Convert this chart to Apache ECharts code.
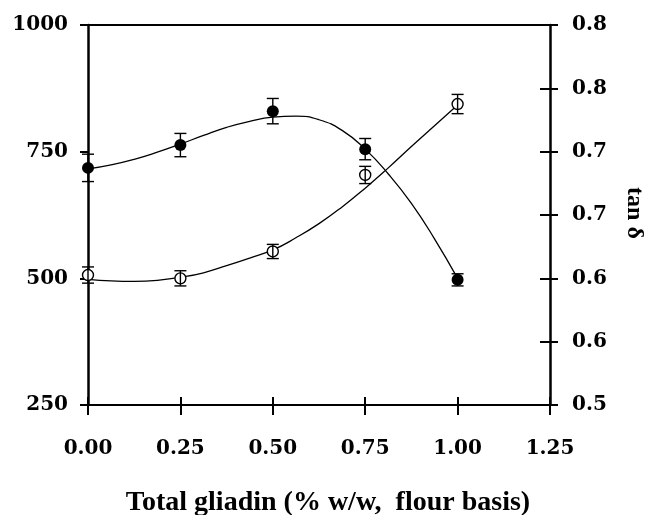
<!DOCTYPE html>
<html>
<head>
<meta charset="utf-8">
<script src="https://cdn.jsdelivr.net/npm/echarts@6/dist/echarts.min.js"></script>
<style>
html,body{margin:0;padding:0;background:#fff;}
#chart{width:646px;height:515px;}
</style>
</head>
<body>
<div id="chart"></div>
<script>
// ---- data ----
const xTicks = [0, 0.25, 0.5, 0.75, 1.0, 1.25];
const leftTickLabels = ['250', '500', '750', '1000'];
const rightTickLabels = ['0.5', '0.6', '0.6', '0.7', '0.7', '0.8', '0.8'];

const pointX = [0, 0.25, 0.5, 0.75, 1.0];
// filled circles (left axis)
const filledValues = [718, 763, 830, 755, 497];
const filledErrors = [27, 23, 25, 21, 12];
// open circles (tan δ, right axis)
const openValues = [0.6026, 0.6000, 0.6212, 0.6816, 0.7376];
const openErrors = [0.0064, 0.0060, 0.0056, 0.0068, 0.0076];

// fitted curves
const curveX = [0, 0.0625, 0.125, 0.1875, 0.25, 0.3125, 0.375, 0.4375, 0.5, 0.5625, 0.625, 0.6875, 0.75, 0.8125, 0.875, 0.9375, 1.0];
const filledCurve = [716, 724, 735, 749, 765, 782, 798, 810, 818, 820, 813, 792, 755, 706, 648, 578, 500];
const openCurve = [0.5992, 0.5980, 0.5976, 0.5984, 0.6008, 0.6044, 0.6100, 0.6160, 0.6224, 0.6320, 0.6432, 0.6564, 0.6712, 0.6872, 0.7040, 0.7204, 0.7368];

const xTitle = 'Total gliadin (% w/w,  flour basis)';
const yRightTitle = 'tan δ';

// ---- chart ----
const tickFont = {fontFamily: 'DejaVu Serif', fontWeight: 'bold', fontSize: 20, color: '#000'};
const chart = echarts.init(document.getElementById('chart'), null, {renderer: 'canvas'});

function zip(a, b) { return a.map((v, i) => [v, b[i]]); }
function errData(xs, vs, es) { return xs.map((x, i) => [x, vs[i] - es[i], vs[i] + es[i]]); }

function errRender(params, api) {
  const x = api.value(0), lo = api.value(1), hi = api.value(2);
  const p1 = api.coord([x, hi]);
  const p2 = api.coord([x, lo]);
  const hw = 6;
  const st = {stroke: '#000', lineWidth: 1.4};
  return {
    type: 'group',
    children: [
      {type: 'line', shape: {x1: p1[0], y1: p1[1], x2: p2[0], y2: p2[1]}, style: st},
      {type: 'line', shape: {x1: p1[0] - hw, y1: p1[1], x2: p1[0] + hw, y2: p1[1]}, style: st},
      {type: 'line', shape: {x1: p2[0] - hw, y1: p2[1], x2: p2[0] + hw, y2: p2[1]}, style: st}
    ]
  };
}

const xBase = {type: 'value', min: 0, max: 1.25, interval: 0.25, splitLine: {show: false}};
const yLeftBase = {type: 'value', min: 250, max: 1000, interval: 250, splitLine: {show: false}};
const yRightBase = {type: 'value', min: 0.5, max: 0.8, interval: 0.05, splitLine: {show: false}};
const gridRect = {left: 88, right: 96, top: 25, bottom: 110, containLabel: false};

const option = {
  animation: false,
  backgroundColor: '#fff',
  grid: [Object.assign({}, gridRect), Object.assign({}, gridRect)],
  xAxis: [
    Object.assign({}, xBase, {
      gridIndex: 0, position: 'bottom',
      axisLine: {show: true, onZero: false, lineStyle: {color: '#000', width: 2}},
      axisTick: {show: true, inside: false, length: 10, lineStyle: {color: '#000', width: 2}},
      axisLabel: Object.assign({margin: 34, formatter: (v) => xTicks[Math.round(v / 0.25)].toFixed(2)}, tickFont)
    }),
    Object.assign({}, xBase, {
      gridIndex: 0, position: 'top',
      axisLine: {show: true, onZero: false, lineStyle: {color: '#000', width: 2}},
      axisTick: {show: false},
      axisLabel: {show: false}
    }),
    Object.assign({}, xBase, {
      gridIndex: 1, position: 'bottom',
      axisLine: {show: false, onZero: false},
      axisTick: {show: true, inside: true, length: 8, lineStyle: {color: '#000', width: 2}},
      axisLabel: {show: false}
    })
  ],
  yAxis: [
    Object.assign({}, yLeftBase, {
      gridIndex: 0, position: 'left',
      axisLine: {show: true, onZero: false, lineStyle: {color: '#000', width: 2.5}},
      axisTick: {show: true, inside: false, length: 8, lineStyle: {color: '#000', width: 2}},
      axisLabel: Object.assign({margin: 20, formatter: (v, i) => leftTickLabels[i]}, tickFont)
    }),
    Object.assign({}, yRightBase, {
      gridIndex: 0, position: 'right',
      axisLine: {show: true, onZero: false, lineStyle: {color: '#000', width: 2.5}},
      axisTick: {show: true, inside: false, length: 8, lineStyle: {color: '#000', width: 2}},
      axisLabel: Object.assign({margin: 22, formatter: (v, i) => rightTickLabels[i]}, tickFont)
    }),
    Object.assign({}, yRightBase, {
      gridIndex: 1, position: 'right',
      axisLine: {show: false, onZero: false},
      axisTick: {show: true, inside: true, length: 10, lineStyle: {color: '#000', width: 2}},
      axisLabel: {show: false}
    })
  ],
  series: [
    {
      type: 'line', xAxisIndex: 0, yAxisIndex: 0, z: 1,
      data: zip(curveX, filledCurve), smooth: 0.5, showSymbol: false, symbol: 'none',
      lineStyle: {color: '#000', width: 1.3}
    },
    {
      type: 'line', xAxisIndex: 0, yAxisIndex: 1, z: 1,
      data: zip(curveX, openCurve), smooth: 0.5, showSymbol: false, symbol: 'none',
      lineStyle: {color: '#000', width: 1.3}
    },
    {
      type: 'custom', xAxisIndex: 0, yAxisIndex: 0, z: 2,
      data: errData(pointX, filledValues, filledErrors), renderItem: errRender,
      encode: {x: 0, y: [1, 2]}
    },
    {
      type: 'scatter', xAxisIndex: 0, yAxisIndex: 0, z: 3,
      data: zip(pointX, filledValues), symbol: 'circle', symbolSize: 12,
      itemStyle: {color: '#000', borderColor: '#000', borderWidth: 0, opacity: 1}
    },
    {
      type: 'scatter', xAxisIndex: 0, yAxisIndex: 1, z: 4,
      data: zip(pointX, openValues), symbol: 'circle', symbolSize: 11,
      itemStyle: {color: '#fff', borderColor: '#000', borderWidth: 1.4, opacity: 1}
    },
    {
      type: 'custom', xAxisIndex: 0, yAxisIndex: 1, z: 5,
      data: errData(pointX, openValues, openErrors), renderItem: errRender,
      encode: {x: 0, y: [1, 2]}
    }
  ],
  graphic: [
    {
      type: 'text', x: 328, y: 503,
      style: {text: xTitle, textAlign: 'center', textVerticalAlign: 'middle',
        fill: '#000', font: 'bold 28px "Liberation Serif"'}
    },
    {
      type: 'text', x: 634, y: 213, rotation: -Math.PI / 2,
      style: {text: yRightTitle, textAlign: 'center', textVerticalAlign: 'middle',
        fill: '#000', font: 'bold 24px "Liberation Serif"'}
    }
  ]
};
chart.setOption(option);
</script>
</body>
</html>
